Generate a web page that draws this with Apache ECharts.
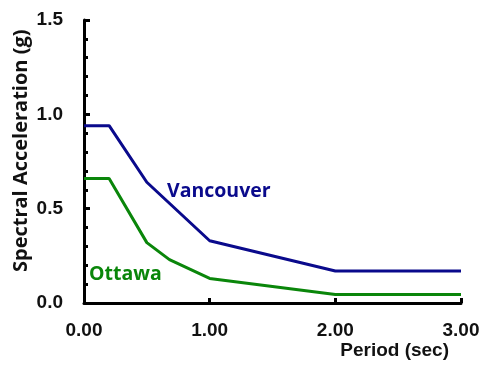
<!DOCTYPE html>
<html><head><meta charset="utf-8">
<script src="https://cdn.jsdelivr.net/npm/echarts@6/dist/echarts.min.js"></script>
<style>html,body{margin:0;padding:0;background:#fff}#c{width:483px;height:365px}</style>
</head><body><div id="c"></div>
<script>
const vancouverPeriod = [0, 0.2, 0.5, 1.0, 2.0, 3.0];
const vancouverSa = [0.94, 0.94, 0.64, 0.33, 0.17, 0.17];
const ottawaPeriod = [0, 0.2, 0.5, 0.68, 1.0, 2.0, 3.0];
const ottawaSa = [0.66, 0.66, 0.32, 0.23, 0.13, 0.045, 0.045];
const xTicks = [0, 1, 2, 3];
const yTicks = [0, 0.5, 1.0, 1.5];

const chart = echarts.init(document.getElementById('c'), null, {renderer: 'canvas'});
const font = '"Liberation Sans", Arial, sans-serif';
chart.setOption({
  animation: false,
  grid: {left: 84, right: 22, top: 20, bottom: 62},
  xAxis: {
    type: 'value', min: 0, max: 3, interval: 1,
    axisLine: {show: true, onZero: false, lineStyle: {color: '#000', width: 3}},
    axisTick: {show: true, inside: true, length: 5, lineStyle: {color: '#000', width: 3}},
    splitLine: {show: false},
    axisLabel: {color: '#111', fontFamily: font, fontWeight: 'bold', fontSize: 19, margin: 18,
      formatter: v => v.toFixed(2)}
  },
  yAxis: {
    type: 'value', min: 0, max: 1.5, interval: 0.5,
    axisLine: {show: true, lineStyle: {color: '#000', width: 3}},
    axisTick: {show: true, inside: true, length: 6, lineStyle: {color: '#000', width: 3}},
    minorTick: {show: true, splitNumber: 5, length: 4, lineStyle: {color: '#000', width: 3}},
    splitLine: {show: false},
    axisLabel: {color: '#111', fontFamily: font, fontWeight: 'bold', fontSize: 19, margin: 21,
      formatter: v => v.toFixed(1)}
  },
  series: [
    {type: 'line', data: vancouverPeriod.map((p, i) => [p, vancouverSa[i]]), showSymbol: false,
     lineStyle: {color: '#0a0a8c', width: 3}, itemStyle: {color: '#0a0a8c'}},
    {type: 'line', data: ottawaPeriod.map((p, i) => [p, ottawaSa[i]]), showSymbol: false,
     lineStyle: {color: '#0a860a', width: 3}, itemStyle: {color: '#0a860a'}}
  ],
  graphic: [
    {type: 'text', left: 167, top: 181, style: {text: 'Vancouver', fill: '#0a0a8c',
      font: 'bold 19.5px "Open Sans", sans-serif'}},
    {type: 'text', left: 89, top: 264, style: {text: 'Ottawa', fill: '#0a860a',
      font: 'bold 19.5px "Open Sans", sans-serif'}},
    {type: 'text', right: 34, top: 341, style: {text: 'Period (sec)', fill: '#111',
      font: 'bold 19px "Liberation Sans", Arial, sans-serif'}},
    {type: 'text', x: 11, y: 272, rotation: Math.PI / 2, style: {text: 'Spectral Acceleration (g)', fill: '#111',
      font: 'bold 20px "Open Sans", sans-serif'}}
  ]
});
</script></body></html>
